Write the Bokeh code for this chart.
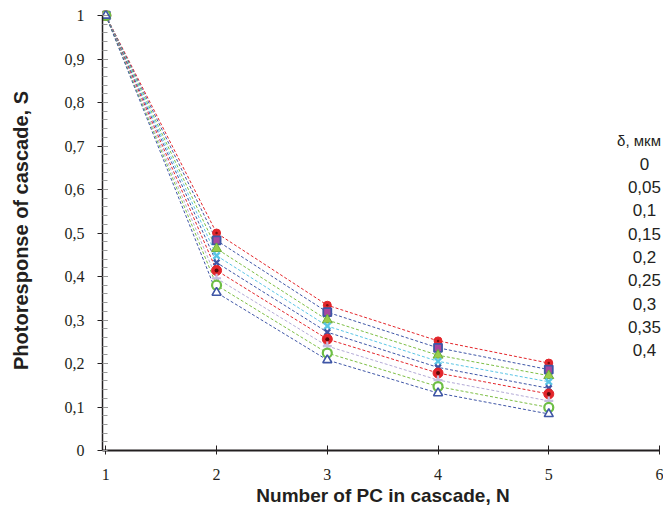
from bokeh.plotting import figure
from bokeh.models import Range1d, SingleIntervalTicker, CustomJSTickFormatter, Label, Title
from bokeh.embed import file_html
from bokeh.resources import INLINE

# ---- data ----
N = [1, 2, 3, 4, 5]
S_d000 = [1.0, 0.500, 0.334, 0.252, 0.201]
S_d005 = [1.0, 0.483, 0.318, 0.236, 0.186]
S_d010 = [1.0, 0.464, 0.300, 0.219, 0.172]
S_d015 = [1.0, 0.448, 0.286, 0.205, 0.158]
S_d020 = [1.0, 0.432, 0.272, 0.191, 0.143]
S_d025 = [1.0, 0.414, 0.256, 0.178, 0.130]
S_d030 = [1.0, 0.396, 0.240, 0.162, 0.114]
S_d035 = [1.0, 0.380, 0.224, 0.147, 0.099]
S_d040 = [1.0, 0.363, 0.208, 0.132, 0.084]
series = [S_d000, S_d005, S_d010, S_d015, S_d020, S_d025, S_d030, S_d035, S_d040]
delta_labels = ["0", "0,05", "0,1", "0,15", "0,2", "0,25", "0,3", "0,35", "0,4"]
legend_title = "δ, мкм"
x_title = "Number of PC in cascade, N"
y_title = "Photoresponse of cascade, S"

RED = "#E3262B"
BLUE = "#3F56A6"
GREEN = "#7DBE45"
CYAN = "#5BC5E5"
LAV = "#C4BDE0"
INK = "#231F20"
SANS = "'Liberation Sans', Arial, sans-serif"
SERIF = "'Liberation Serif', 'Times New Roman', serif"

styles = [
    dict(line=RED, marker="circle", size=8, fill=RED, edge=RED, lw=1, dot="#7A1010", dotsize=2.5),
    dict(line=BLUE, marker="square", size=8, fill="#A8479E", edge=BLUE, lw=1.8, dot=None),
    dict(line=GREEN, marker="triangle", size=10, fill="#9ACD4A", edge="#6AAE3A", lw=1, dot=None),
    dict(line=CYAN, marker="x", size=9, fill=None, edge=CYAN, lw=2.4, dot=None),
    dict(line=BLUE, marker="x", size=8, fill=None, edge=BLUE, lw=2.4, dot=None),
    dict(line=RED, marker="circle", size=10, fill=RED, edge=RED, lw=1, dot="#5A0A0A", dotsize=4),
    dict(line="#B3AAD6", marker="cross", size=9, fill=None, edge=LAV, lw=2.2, dot=None),
    dict(line=GREEN, marker="circle", size=9, fill="white", edge="#6DBE45", lw=2.2, dot=None),
    dict(line=BLUE, marker="triangle", size=9, fill="white", edge=BLUE, lw=1.6, dot=None),
]

p = figure(width=663, height=510, output_backend="svg", toolbar_location=None,
           x_range=Range1d(0.97, 6.036), y_range=Range1d(0.0, 1.0115),
           min_border_left=102, min_border_right=0, min_border_top=10, min_border_bottom=60)
p.outline_line_color = None
p.xgrid.visible = False
p.ygrid.visible = False
p.background_fill_color = "white"

for s, st in zip(series, styles):
    p.line(N, s, line_color=st["line"], line_width=1, line_dash="3 2")
for s, st in zip(series, styles):
    kw = dict(marker=st["marker"], size=st["size"], line_color=st["edge"], line_width=st["lw"])
    if st["fill"] is None:
        kw["fill_alpha"] = 0
    else:
        kw["fill_color"] = st["fill"]
    p.scatter(N, s, **kw)
    if st.get("dot"):
        p.scatter(N, s, marker="circle", size=st["dotsize"], fill_color=st["dot"], line_color=None)

# axes
xa = p.xaxis[0]
xa.bounds = (0.97, 6.0)
xa.ticker = SingleIntervalTicker(interval=1, num_minor_ticks=0)
xa.axis_line_width = 2
xa.axis_line_color = INK
xa.major_tick_in = 5
xa.major_tick_out = 4
xa.major_tick_line_color = INK
xa.major_tick_line_width = 1
xa.minor_tick_line_color = None
xa.major_label_standoff = 14
xa.major_label_text_font = SERIF
xa.major_label_text_font_size = "16px"
xa.major_label_text_color = INK

ya = p.yaxis[0]
ya.bounds = (0.0, 1.0)
ya.ticker = SingleIntervalTicker(interval=0.1, num_minor_ticks=5)
ya.formatter = CustomJSTickFormatter(code="""
if (Math.abs(tick) < 1e-9) return '0';
if (Math.abs(tick - 1) < 1e-9) return '1';
return tick.toFixed(1).replace('.', ',');
""")
ya.axis_line_width = 1.5
ya.axis_line_color = INK
ya.major_tick_in = 5
ya.major_tick_out = 5
ya.major_tick_line_color = INK
ya.minor_tick_in = 5
ya.minor_tick_out = 0
ya.minor_tick_line_color = "#9A9A9A"
ya.major_label_standoff = 13
ya.major_label_text_font = SERIF
ya.major_label_text_font_size = "16px"
ya.major_label_text_color = INK
ya.axis_label = y_title
ya.axis_label_text_font = SANS
ya.axis_label_text_font_style = "bold"
ya.axis_label_text_font_size = "20px"
ya.axis_label_text_color = INK
ya.axis_label_standoff = 30

# x axis title as a side title
p.add_layout(Title(text=x_title, align="center", offset=2, standoff=0,
                   text_font=SANS, text_font_style="bold", text_font_size="19px",
                   text_color=INK), "below")

# legend (text only)
leg_x = 5.864
leg_title_x = 5.815
leg_top = 0.7126
leg_step = 0.0536
p.add_layout(Label(x=leg_title_x, y=leg_top, text=legend_title, text_align="center",
                   text_baseline="middle", text_font=SANS,
                   text_font_size="15px", text_color=INK))
for i, lab in enumerate(delta_labels):
    p.add_layout(Label(x=leg_x, y=leg_top - (i + 1) * leg_step, text=lab, text_align="center",
                       text_baseline="middle", text_font=SANS,
                       text_font_size="17px", text_color=INK))

open("out.html", "w").write(file_html(p, INLINE))
